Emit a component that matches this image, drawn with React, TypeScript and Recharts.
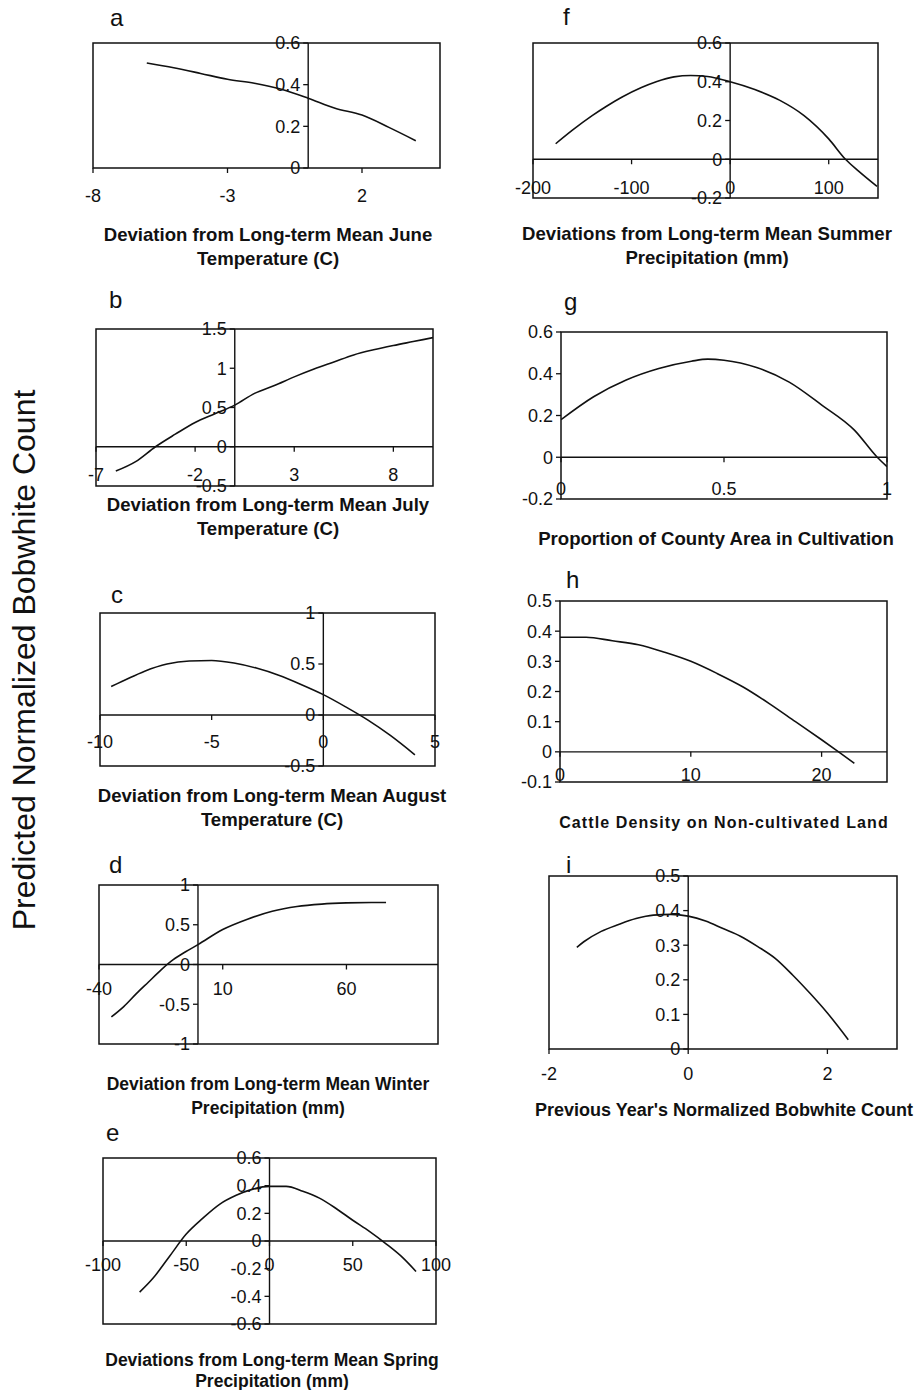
import React from "react";
import { LineChart, Line, XAxis, YAxis, ReferenceLine, ReferenceArea } from "recharts";

const FONT = "'Liberation Sans', Arial, Helvetica, sans-serif";
const INK = "#111";

// a: June temperature
const juneX = [-6, -5, -4, -3, -2, -1, 0, 1, 2, 3, 4];
const juneY = [0.504, 0.481, 0.454, 0.426, 0.407, 0.378, 0.335, 0.287, 0.254, 0.195, 0.131];

// b: July temperature
const julyX = [-6, -5, -4, -3, -2, -1, 0, 1, 2, 3, 4, 5, 6, 7, 8, 9, 10];
const julyY = [-0.31, -0.19, 0.0, 0.16, 0.31, 0.42, 0.53, 0.68, 0.78, 0.89, 0.99, 1.08, 1.17, 1.235, 1.29, 1.34, 1.39];

// c: August temperature
const augX = [-9.5, -9, -8, -7, -6, -5, -4, -3, -2, -1, 0, 1, 2, 3, 4.1];
const augY = [0.28, 0.33, 0.43, 0.5, 0.53, 0.535, 0.51, 0.46, 0.39, 0.3, 0.2, 0.08, -0.05, -0.2, -0.39];

// d: winter precipitation
const winterX = [-35, -30, -25, -20, -15, -10, -5, 0, 10, 20, 30, 40, 50, 60, 70, 76];
const winterY = [-0.66, -0.53, -0.37, -0.22, -0.07, 0.06, 0.16, 0.25, 0.44, 0.57, 0.67, 0.73, 0.76, 0.775, 0.78, 0.78];

// e: spring precipitation
const springX = [-78, -70, -60, -50, -40, -30, -20, -10, 0, 10, 20, 30, 40, 50, 60, 70, 80, 88];
const springY = [-0.37, -0.27, -0.11, 0.05, 0.165, 0.265, 0.33, 0.375, 0.395, 0.395, 0.36, 0.31, 0.235, 0.15, 0.07, -0.02, -0.12, -0.22];

// f: summer precipitation
const summerX = [-177, -160, -140, -125, -110, -90, -75, -57, -40, -23, 0, 25, 50, 75, 100, 117, 130, 149];
const summerY = [0.08, 0.15, 0.225, 0.275, 0.32, 0.37, 0.4, 0.425, 0.432, 0.427, 0.4, 0.36, 0.305, 0.225, 0.105, 0.0, -0.06, -0.14];

// g: cultivation
const cultX = [0, 0.1, 0.2, 0.3, 0.4, 0.45, 0.5, 0.6, 0.7, 0.8, 0.9, 0.97, 1.0];
const cultY = [0.18, 0.29, 0.37, 0.425, 0.46, 0.47, 0.465, 0.43, 0.36, 0.25, 0.13, 0.0, -0.045];

// h: cattle density
const cattleX = [0, 2, 4, 6, 8, 10, 12, 14, 16, 18, 20, 21.3, 22.5];
const cattleY = [0.38, 0.38, 0.368, 0.355, 0.33, 0.3, 0.26, 0.215, 0.16, 0.1, 0.04, 0.0, -0.038];

// i: previous year's count
const prevX = [-1.6, -1.5, -1.25, -1, -0.75, -0.5, -0.25, 0, 0.25, 0.5, 0.75, 1, 1.25, 1.5, 1.75, 2, 2.3];
const prevY = [0.294, 0.31, 0.34, 0.36, 0.377, 0.387, 0.389, 0.384, 0.37, 0.348, 0.326, 0.296, 0.262, 0.214, 0.161, 0.104, 0.027];

const toPoints = (xs: number[], ys: number[]) => xs.map((x, i) => ({ x, y: ys[i] }));

const ML = 50;
const MR = 25;
const MT = 20;
const MB = 45;

type PanelProps = {
  xs: number[];
  ys: number[];
  xDomain: [number, number];
  yDomain: [number, number];
  xTicks: number[];
  yTicks: number[];
  box: [number, number, number, number]; // left, top, right, bottom
  labelDy: number;
};

const Panel = ({ xs, ys, xDomain, yDomain, xTicks, yTicks, box, labelDy }: PanelProps) => {
  const [left, top, right, bottom] = box;
  const w = right - left;
  const h = bottom - top;
  const [xmin, xmax] = xDomain;
  const [ymin, ymax] = yDomain;
  // where the axes cross (at zero, or the box edge)
  const axisX = ML + (xmin < 0 ? ((0 - xmin) / (xmax - xmin)) * w : 0);
  const axisY = MT + (ymin < 0 ? ((ymax - 0) / (ymax - ymin)) * h : h);

  const xTick = (props: any) => (
    <g>
      <line x1={props.x} x2={props.x} y1={axisY} y2={axisY + 5} stroke={INK} strokeWidth={1.3} />
      <text x={props.x} y={axisY + labelDy} textAnchor="middle" fontSize={18} fontFamily={FONT} fill={INK}>
        {props.payload.value}
      </text>
    </g>
  );
  const yTick = (props: any) => (
    <g>
      <line x1={axisX - 5} x2={axisX} y1={props.y} y2={props.y} stroke={INK} strokeWidth={1.3} />
      <text x={axisX - 8} y={props.y} dy="0.36em" textAnchor="end" fontSize={18} fontFamily={FONT} fill={INK}>
        {props.payload.value}
      </text>
    </g>
  );

  return (
    <div style={{ position: "absolute", left: left - ML, top: top - MT }}>
      <LineChart
        width={w + ML + MR}
        height={h + MT + MB}
        data={toPoints(xs, ys)}
        margin={{ top: MT, right: MR, bottom: MB - 1, left: ML - 1 }}
      >
        <XAxis
          type="number"
          dataKey="x"
          domain={xDomain}
          ticks={xTicks}
          allowDataOverflow
          interval={0}
          height={1}
          axisLine={false}
          tickLine={false}
          tick={xTick}
        />
        <YAxis
          type="number"
          domain={yDomain}
          ticks={yTicks}
          allowDataOverflow
          interval={0}
          width={1}
          axisLine={false}
          tickLine={false}
          tick={yTick}
        />
        <ReferenceArea
          x1={xmin}
          x2={xmax}
          y1={ymin}
          y2={ymax}
          fill="none"
          fillOpacity={0}
          stroke={INK}
          strokeWidth={1.5}
          ifOverflow="visible"
        />
        {xmin < 0 && <ReferenceLine x={0} stroke={INK} strokeWidth={1.4} />}
        {ymin < 0 && <ReferenceLine y={0} stroke={INK} strokeWidth={1.4} />}
        <Line
          type="monotone"
          dataKey="y"
          stroke={INK}
          strokeWidth={1.6}
          dot={false}
          isAnimationActive={false}
        />
      </LineChart>
    </div>
  );
};

const titles: { x: number; lines: [string, number][]; size: number; spacing?: number }[] = [
  { x: 268, lines: [["Deviation from Long-term Mean June", 241], ["Temperature (C)", 265]], size: 18.6 },
  { x: 268, lines: [["Deviation from Long-term Mean July", 511], ["Temperature (C)", 535]], size: 18.6 },
  { x: 272, lines: [["Deviation from Long-term Mean August", 802], ["Temperature (C)", 826]], size: 18.6 },
  { x: 268, lines: [["Deviation from Long-term Mean Winter", 1090], ["Precipitation (mm)", 1114]], size: 17.5 },
  { x: 272, lines: [["Deviations from Long-term Mean Spring", 1366], ["Precipitation (mm)", 1387]], size: 17.5 },
  { x: 707, lines: [["Deviations from Long-term Mean Summer", 240], ["Precipitation (mm)", 264]], size: 18.6 },
  { x: 716, lines: [["Proportion of County Area in Cultivation", 545]], size: 18.6 },
  { x: 724, lines: [["Cattle Density on Non-cultivated Land", 828]], size: 16, spacing: 1.1 },
  { x: 724, lines: [["Previous Year's Normalized Bobwhite Count", 1116]], size: 18 },
];

const letters: [string, number, number][] = [
  ["a", 110, 26],
  ["b", 109, 308],
  ["c", 111, 603],
  ["d", 109, 873],
  ["e", 106, 1141],
  ["f", 563, 25],
  ["g", 564, 310],
  ["h", 566, 588],
  ["i", 566, 873],
];

export default function App() {
  return (
    <div style={{ position: "absolute", left: 0, top: 0, width: 916, height: 1390, background: "#fff" }}>
      <Panel xs={juneX} ys={juneY} xDomain={[-8, 4.9]} yDomain={[0, 0.6]} xTicks={[-8, -3, 2]} yTicks={[0, 0.2, 0.4, 0.6]} box={[93, 43, 440, 168]} labelDy={34} />
      <Panel xs={julyX} ys={julyY} xDomain={[-7, 10]} yDomain={[-0.5, 1.5]} xTicks={[-7, -2, 3, 8]} yTicks={[-0.5, 0, 0.5, 1, 1.5]} box={[96, 329, 433, 486]} labelDy={34} />
      <Panel xs={augX} ys={augY} xDomain={[-10, 5]} yDomain={[-0.5, 1]} xTicks={[-10, -5, 0, 5]} yTicks={[-0.5, 0, 0.5, 1]} box={[100, 613, 435, 766]} labelDy={33} />
      <Panel xs={winterX} ys={winterY} xDomain={[-40, 97]} yDomain={[-1, 1]} xTicks={[-40, 10, 60]} yTicks={[-1, -0.5, 0, 0.5, 1]} box={[99, 885, 438, 1044]} labelDy={30} />
      <Panel xs={springX} ys={springY} xDomain={[-100, 100]} yDomain={[-0.6, 0.6]} xTicks={[-100, -50, 0, 50, 100]} yTicks={[-0.6, -0.4, -0.2, 0, 0.2, 0.4, 0.6]} box={[103, 1158, 436, 1324]} labelDy={30} />
      <Panel xs={summerX} ys={summerY} xDomain={[-200, 150]} yDomain={[-0.2, 0.6]} xTicks={[-200, -100, 0, 100]} yTicks={[-0.2, 0, 0.2, 0.4, 0.6]} box={[533, 43, 878, 198]} labelDy={35} />
      <Panel xs={cultX} ys={cultY} xDomain={[0, 1]} yDomain={[-0.2, 0.6]} xTicks={[0, 0.5, 1]} yTicks={[-0.2, 0, 0.2, 0.4, 0.6]} box={[561, 332, 887, 499]} labelDy={38} />
      <Panel xs={cattleX} ys={cattleY} xDomain={[0, 25]} yDomain={[-0.1, 0.5]} xTicks={[0, 10, 20]} yTicks={[-0.1, 0, 0.1, 0.2, 0.3, 0.4, 0.5]} box={[560, 601, 887, 782]} labelDy={29} />
      <Panel xs={prevX} ys={prevY} xDomain={[-2, 3]} yDomain={[0, 0.5]} xTicks={[-2, 0, 2]} yTicks={[0, 0.1, 0.2, 0.3, 0.4, 0.5]} box={[549, 876, 897, 1049]} labelDy={31} />

      <svg width={916} height={1390} style={{ position: "absolute", left: 0, top: 0, pointerEvents: "none" }}>
        <text
          x={35}
          y={660}
          transform="rotate(-90 35 660)"
          textAnchor="middle"
          fontSize={32}
          fontFamily={FONT}
          fill={INK}
        >
          Predicted Normalized Bobwhite Count
        </text>
        {letters.map(([t, x, y]) => (
          <text key={t} x={x} y={y} fontSize={24} fontFamily={FONT} fill={INK}>
            {t}
          </text>
        ))}
        {titles.map((t, i) =>
          t.lines.map(([line, y], j) => (
            <text
              key={`${i}-${j}`}
              x={t.x}
              y={y}
              textAnchor="middle"
              fontSize={t.size}
              fontWeight="bold"
              letterSpacing={t.spacing ?? 0}
              fontFamily={FONT}
              fill={INK}
            >
              {line}
            </text>
          ))
        )}
      </svg>
    </div>
  );
}
